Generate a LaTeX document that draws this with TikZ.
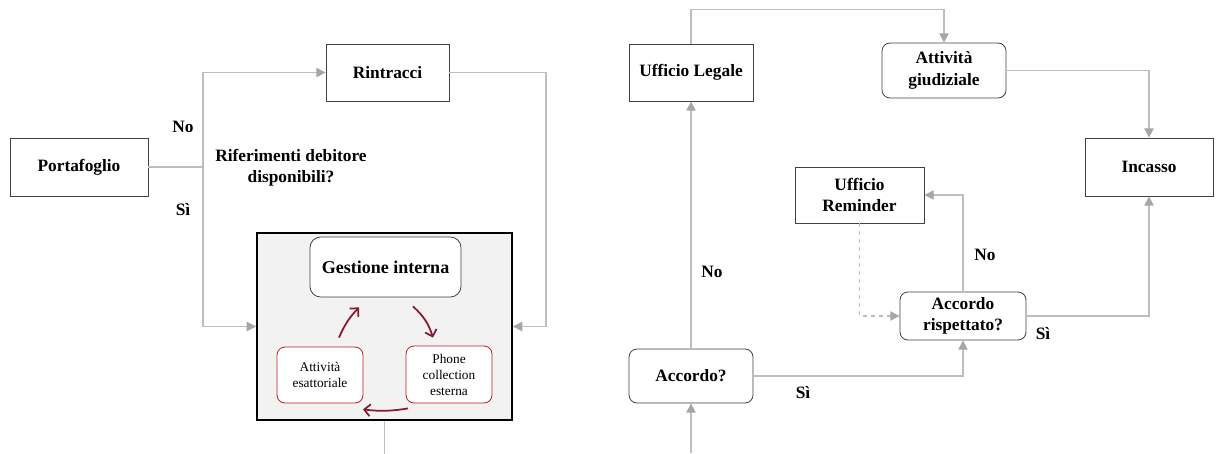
\documentclass[tikz,border=0pt]{standalone}
\usepackage{fontspec}
\setmainfont{Liberation Serif}
\usetikzlibrary{arrows.meta, positioning}

\definecolor{linegray}{RGB}{190,190,190}
\definecolor{tipgray}{RGB}{166,166,166}
\definecolor{framegray}{RGB}{242,242,242}
\definecolor{boxred}{RGB}{190,30,40}
\definecolor{cyclered}{RGB}{135,25,45}

\begin{document}
\begin{tikzpicture}[x=0.75pt, y=-0.75pt,
  box/.style={rectangle, draw=black!75, line width=0.6pt, fill=white, inner sep=0pt, text centered, align=center, font=\fontsize{13}{16}\selectfont\bfseries},
  roundbox/.style={box, rounded corners=6pt},
  redbox/.style={rectangle, rounded corners=6pt, draw=boxred, line width=0.6pt, fill=white, inner sep=0pt, minimum width=64.5pt, minimum height=42pt, text centered, align=center, font=\fontsize{10}{12}\selectfont},
  outer/.style={rectangle, draw=black, line width=1.4pt, fill=framegray, minimum width=191.25pt, minimum height=140.25pt},
  label/.style={font=\fontsize{13}{16}\selectfont\bfseries, align=center},
  line/.style={draw=linegray, line width=1pt},
  arrow/.style={line, -{Triangle[length=7pt,width=7pt,color=tipgray]}},
  cycle/.style={draw=cyclered, line width=1.3pt, -{Straight Barb[length=4.5pt,width=9pt]}}]

  \useasboundingbox (0,0) rectangle (1216,453);

  % Nodes
  \node (portafoglio) [box, minimum width=103.5pt, minimum height=43.5pt] at (79,167) {Portafoglio};
  \node (rintracci) [box, minimum width=92.25pt, minimum height=42.75pt] at (387.5,72.5) {Rintracci};
  \node (riferimenti) [label] at (291,168) {Riferimenti debitore \\ disponibili?};
  \node (no1) [label] at (183,127) {No};
  \node (si1) [label] at (183,210) {Sì};

  \node (interna) [outer] at (384.5,326.5) {};
  \node (gestione) [roundbox, rounded corners=8pt, minimum width=113.25pt, minimum height=45pt, font=\fontsize{13.5}{16}\selectfont\bfseries] at (385.5,267) {Gestione interna};
  \node (esattoriale) [redbox] at (320,375) {Attività \\ esattoriale};
  \node (phone) [redbox, minimum height=42.75pt] at (449,374.5) {Phone \\ collection \\ esterna};

  \node (legale) [box, minimum width=93pt, minimum height=42.75pt] at (691,72.5) {Ufficio Legale};
  \node (giudiziale) [roundbox, minimum width=93pt, minimum height=41.25pt] at (944,70.5) {Attività \\ giudiziale};
  \node (incasso) [box, minimum width=96pt, minimum height=43.5pt] at (1149,167) {Incasso};
  \node (reminder) [box, minimum width=96.75pt, minimum height=42pt] at (859.5,195) {Ufficio \\ Reminder};
  \node (rispettato) [roundbox, minimum width=94.5pt, minimum height=36pt] at (963,316) {Accordo \\ rispettato?};
  \node (accordo) [roundbox, minimum width=93pt, minimum height=40.5pt] at (691,376) {Accordo?};

  \node (no2) [label] at (712,272) {No};
  \node (si2) [label] at (803,393) {Sì};
  \node (no3) [label] at (985,255) {No};
  \node (si3) [label] at (1043,334) {Sì};

  \coordinate (split) at (203,167);
  \coordinate (rturn) at (546,72.5);
  \coordinate (entry) at (691,453);

  % Arrows
  \draw [line] (portafoglio) -- (split);
  \draw [arrow] (split) |- (rintracci);
  \draw [arrow] (split) |- (interna);
  \draw [arrow] (rintracci) -- (rturn) |- (interna);
  \draw [line] (interna.south) -- ++(0,33);

  \draw [cycle] ([shift={(19,-9)}]esattoriale.north) to[bend left=10] ([shift={(-26.5,10)}]gestione.south);
  \draw [cycle] ([shift={(27.5,9)}]gestione.south) to[bend left=15] ([shift={(-16,-8)}]phone.north);
  \draw [cycle] ([shift={(-41,5)}]phone.south) to[bend left=8] ([shift={(43,6)}]esattoriale.south);

  \draw [arrow] (legale.north) -- ++(0,-34) -| (giudiziale.north);
  \draw [arrow] (giudiziale) -| (incasso);
  \draw [arrow] (entry) -- (accordo);
  \draw [arrow] (accordo) -- (legale);
  \draw [arrow] (accordo) -| (rispettato);
  \draw [arrow] (rispettato) |- (reminder);
  \draw [arrow, dashed] (reminder) |- (rispettato);
  \draw [arrow] (rispettato) -| (incasso);

\end{tikzpicture}
\end{document}
